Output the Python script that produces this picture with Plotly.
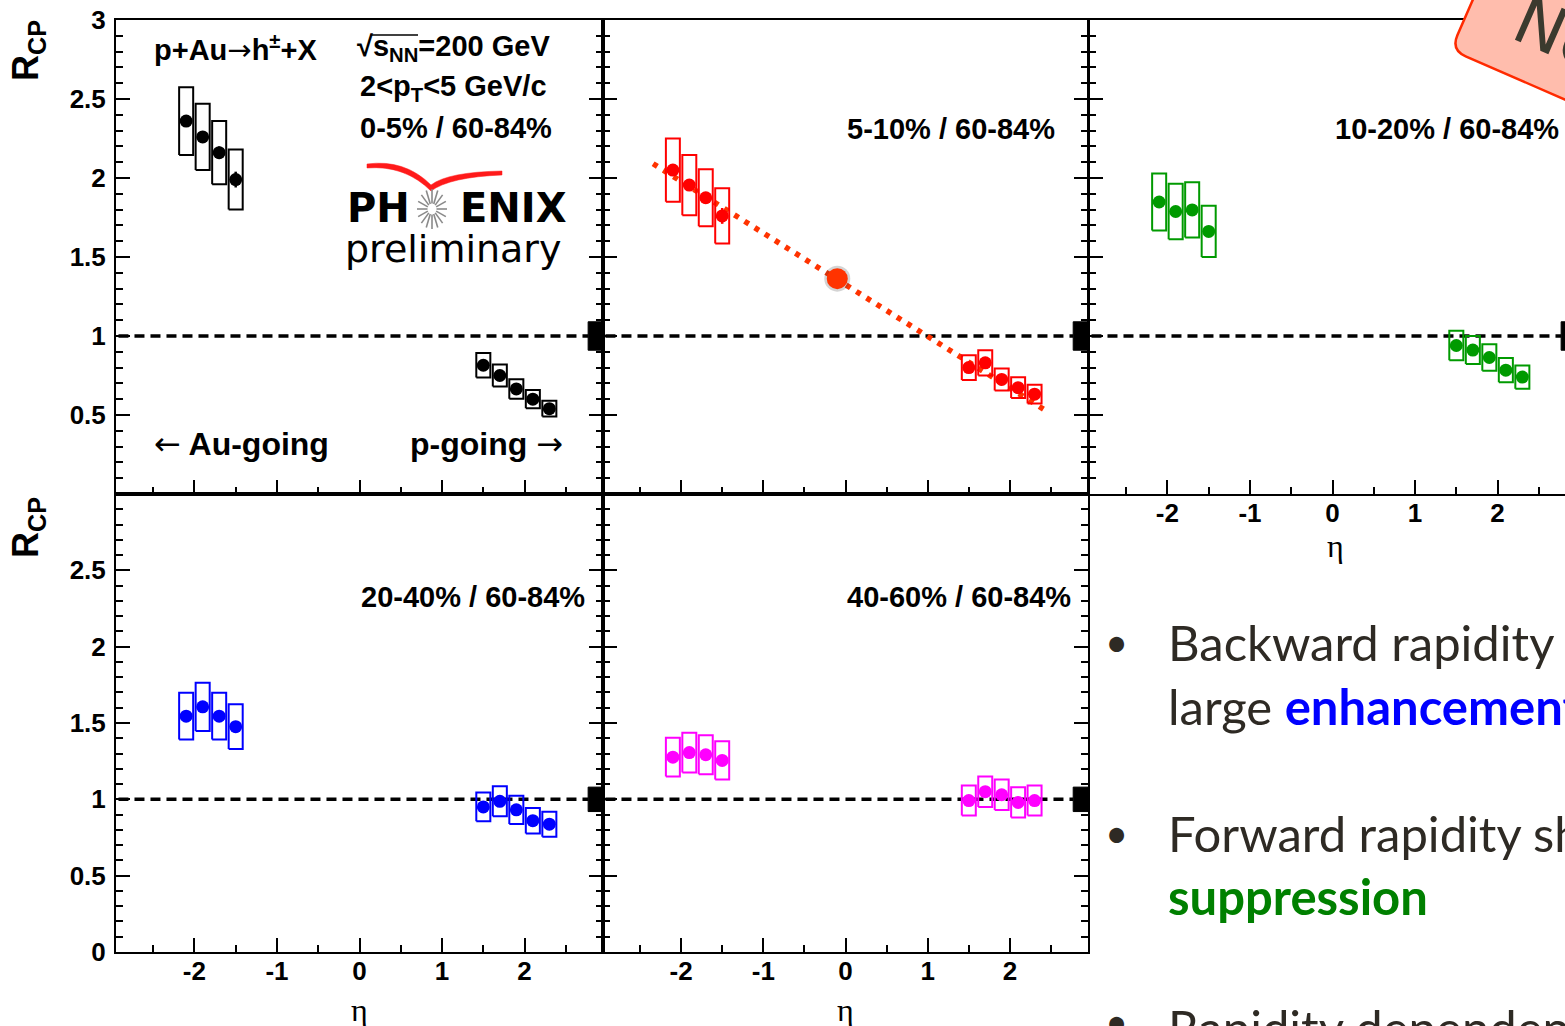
import math
import plotly.graph_objects as go

W, H = 1565, 1026

# ---------------- data ----------------
eta_backward = [-2.1, -1.9, -1.7, -1.5]
eta_forward = [1.5, 1.7, 1.9, 2.1, 2.3]

panel_labels = ["0-5% / 60-84%", "5-10% / 60-84%", "10-20% / 60-84%",
                "20-40% / 60-84%", "40-60% / 60-84%"]
panel_colors = ["#000000", "#ff0000", "#009a00", "#0000ff", "#ff00ff"]

rcp_0_5_back = [2.36, 2.26, 2.16, 1.99]
sys_0_5_back = [0.215, 0.21, 0.20, 0.19]
stat_0_5_back = [0.03, 0.03, 0.04, 0.05]
rcp_0_5_fwd = [0.815, 0.75, 0.665, 0.60, 0.54]
sys_0_5_fwd = [0.077, 0.07, 0.062, 0.058, 0.05]
stat_0_5_fwd = [0.02, 0.02, 0.02, 0.02, 0.02]

rcp_5_10_back = [2.05, 1.955, 1.875, 1.76]
sys_5_10_back = [0.20, 0.19, 0.18, 0.175]
stat_5_10_back = [0.03, 0.03, 0.035, 0.05]
rcp_5_10_fwd = [0.80, 0.83, 0.725, 0.673, 0.632]
sys_5_10_fwd = [0.078, 0.08, 0.07, 0.066, 0.06]
stat_5_10_fwd = [0.02, 0.02, 0.02, 0.02, 0.02]

rcp_10_20_back = [1.848, 1.788, 1.798, 1.662]
sys_10_20_back = [0.18, 0.175, 0.175, 0.162]
stat_10_20_back = [0.025, 0.025, 0.03, 0.035]
rcp_10_20_fwd = [0.94, 0.911, 0.864, 0.784, 0.74]
sys_10_20_fwd = [0.094, 0.089, 0.084, 0.076, 0.074]
stat_10_20_fwd = [0.015, 0.015, 0.015, 0.015, 0.015]

rcp_20_40_back = [1.545, 1.606, 1.545, 1.476]
sys_20_40_back = [0.153, 0.158, 0.153, 0.147]
stat_20_40_back = [0.025, 0.025, 0.025, 0.03]
rcp_20_40_fwd = [0.95, 0.987, 0.931, 0.86, 0.837]
sys_20_40_fwd = [0.094, 0.098, 0.092, 0.084, 0.082]
stat_20_40_fwd = [0.015, 0.015, 0.015, 0.015, 0.015]

rcp_40_60_back = [1.276, 1.306, 1.292, 1.255]
sys_40_60_back = [0.127, 0.13, 0.128, 0.125]
stat_40_60_back = [0.025, 0.025, 0.025, 0.03]
rcp_40_60_fwd = [0.992, 1.05, 1.03, 0.98, 0.992]
sys_40_60_fwd = [0.098, 0.10, 0.10, 0.099, 0.098]
stat_40_60_fwd = [0.015, 0.015, 0.015, 0.015, 0.015]

norm_uncertainty = [0.09, 0.09, 0.09, 0.08, 0.08]

# slide overlay on the 5-10% panel: dotted trend line and highlighted mid-rapidity point
trend_eta = [-2.34, 2.43]
trend_rcp = [2.09, 0.53]
highlight_eta = [-0.10]
highlight_rcp = [1.363]

x_ticks = [-2, -1, 0, 1, 2]
x_ticktext = ["-2", "-1", "0", "1", "2"]
y_ticks_top = [0.5, 1, 1.5, 2, 2.5, 3]
y_ticktext_top = ["0.5", "1", "1.5", "2", "2.5", "3"]
y_ticks_bottom = [0, 0.5, 1, 1.5, 2, 2.5]
y_ticktext_bottom = ["0", "0.5", "1", "1.5", "2", "2.5"]

series = [
    (rcp_0_5_back, sys_0_5_back, stat_0_5_back, rcp_0_5_fwd, sys_0_5_fwd, stat_0_5_fwd),
    (rcp_5_10_back, sys_5_10_back, stat_5_10_back, rcp_5_10_fwd, sys_5_10_fwd, stat_5_10_fwd),
    (rcp_10_20_back, sys_10_20_back, stat_10_20_back, rcp_10_20_fwd, sys_10_20_fwd, stat_10_20_fwd),
    (rcp_20_40_back, sys_20_40_back, stat_20_40_back, rcp_20_40_fwd, sys_20_40_fwd, stat_20_40_fwd),
    (rcp_40_60_back, sys_40_60_back, stat_40_60_back, rcp_40_60_fwd, sys_40_60_fwd, stat_40_60_fwd),
]

# ---------------- layout geometry (pixels) ----------------
geom = [(116, 603, 20, 494), (603, 1088, 20, 494), (1089, 1565, 20, 494),
        (116, 603, 494, 952), (603, 1088, 494, 952)]
XMIN, XMAX = -2.95, 2.95
PX_PER_UNIT = 487 / (XMAX - XMIN)
BOX_HW = 0.085
NORM_X0 = 2.77


def fx(p):
    return p / W


def fy(p):
    return 1 - p / H


def box_xy(etas, vals, errs, hw=BOX_HW):
    xs, ys = [], []
    for e, v, s in zip(etas, vals, errs):
        xs += [e - hw, e + hw, e + hw, e - hw, e - hw, None]
        ys += [v - s, v - s, v + s, v + s, v - s, None]
    return xs, ys


fig = go.Figure()
tickfont = dict(family="Liberation Sans", size=26, color="black", weight="bold")
layout = {}

for i, (x0, x1, y0, y1) in enumerate(geom):
    n = "" if i == 0 else str(i + 1)
    xr = [XMIN, XMIN + (x1 - x0) / PX_PER_UNIT] if i == 2 else [XMIN, XMAX]
    layout["xaxis" + n] = dict(
        domain=[fx(x0), fx(x1)], anchor="y" + n, range=xr, automargin=False,
        showline=True, linewidth=2, linecolor="black", mirror=True,
        ticks="inside", ticklen=14, tickwidth=2, tickcolor="black",
        tickmode="array", tickvals=x_ticks, ticktext=x_ticktext,
        minor=dict(tickmode="linear", tick0=0.5, dtick=0.5, ticks="inside",
                   ticklen=7, tickwidth=2, tickcolor="black"),
        showgrid=False, zeroline=False, fixedrange=True,
        showticklabels=i in (2, 3, 4), tickfont=tickfont, ticklabelstandoff=-5,
    )
    layout["yaxis" + n] = dict(
        domain=[fy(y1), fy(y0)], anchor="x" + n, range=[0, 3], automargin=False,
        showline=True, linewidth=2, linecolor="black",
        mirror=False if i == 2 else "allticks",
        ticks="inside", ticklen=14, tickwidth=2, tickcolor="black",
        tickmode="array",
        tickvals=y_ticks_top if i < 3 else y_ticks_bottom,
        ticktext=y_ticktext_top if i < 3 else y_ticktext_bottom,
        minor=dict(tickmode="linear", tick0=0, dtick=0.1, ticks="inside",
                   ticklen=7, tickwidth=2, tickcolor="black"),
        showgrid=False, zeroline=False, fixedrange=True,
        showticklabels=i in (0, 3), tickfont=tickfont, ticklabelstandoff=3,
    )

    xa, ya = "x" + n, "y" + n
    col = panel_colors[i]
    rb, sb, tb, rf, sf, tf = series[i]

    # unity reference line
    fig.add_trace(go.Scatter(x=[XMIN + 0.03, NORM_X0], y=[1, 1], mode="lines",
                             line=dict(color="black", width=3.5, dash="10px,6px"),
                             xaxis=xa, yaxis=ya, showlegend=False, hoverinfo="skip"))
    # normalisation uncertainty box
    nu = norm_uncertainty[i]
    fig.add_trace(go.Scatter(x=[NORM_X0, XMAX, XMAX, NORM_X0, NORM_X0],
                             y=[1 - nu, 1 - nu, 1 + nu, 1 + nu, 1 - nu],
                             mode="lines", fill="toself", fillcolor="black",
                             line=dict(color="black", width=1),
                             xaxis=xa, yaxis=ya, showlegend=False, hoverinfo="skip"))
    if i == 1:
        fig.add_trace(go.Scatter(x=trend_eta, y=trend_rcp, mode="lines",
                                 line=dict(color="#ff3300", width=5.5, dash="5px,7px"),
                                 xaxis=xa, yaxis=ya, showlegend=False, hoverinfo="skip"))
    # systematic boxes
    for etas, vals, sy in ((eta_backward, rb, sb), (eta_forward, rf, sf)):
        bx, by = box_xy(etas, vals, sy)
        fig.add_trace(go.Scatter(x=bx, y=by, mode="lines",
                                 line=dict(color=col, width=2),
                                 xaxis=xa, yaxis=ya, showlegend=False, hoverinfo="skip"))
    # points with statistical errors
    for etas, vals, st in ((eta_backward, rb, tb), (eta_forward, rf, tf)):
        fig.add_trace(go.Scatter(x=etas, y=vals, mode="markers",
                                 marker=dict(color=col, size=13, symbol="circle"),
                                 error_y=dict(type="data", array=st, color=col,
                                              thickness=2.5, width=0),
                                 xaxis=xa, yaxis=ya, showlegend=False))
    if i == 1:
        fig.add_trace(go.Scatter(x=highlight_eta, y=highlight_rcp, mode="markers",
                                 marker=dict(color="rgba(60,60,60,0.22)", size=26),
                                 xaxis=xa, yaxis=ya, showlegend=False, hoverinfo="skip"))
        fig.add_trace(go.Scatter(x=highlight_eta, y=highlight_rcp, mode="markers",
                                 marker=dict(color="#ff3300", size=21),
                                 xaxis=xa, yaxis=ya, showlegend=False))

annotations = []


def text(x, y, t, size, family="Liberation Sans", bold=True, xanchor="left",
         color="black", angle=0, yanchor="middle"):
    annotations.append(dict(
        x=fx(x), y=fy(y), xref="paper", yref="paper", text=t, showarrow=False,
        xanchor=xanchor, yanchor=yanchor, textangle=angle,
        font=dict(family=family, size=size, color=color,
                  weight="bold" if bold else "normal")))


ARROW_R = "<span style='font-family:DejaVu Sans;font-weight:normal'>→</span>"
ARROW_L = "<span style='font-family:DejaVu Sans;font-weight:normal'>←</span>"

# panel texts
text(152, 48, "p+Au" + ARROW_R + "h<sup>±</sup>+X", 29)
text(355, 48, "√s<sub>NN</sub>=200 GeV", 29)
text(358, 88, "2&lt;p<sub>T</sub>&lt;5 GeV/c", 29)
text(358, 128, panel_labels[0], 29)
text(845, 129, panel_labels[1], 29)
text(1333, 129, panel_labels[2], 29)
text(359, 597, panel_labels[3], 29)
text(845, 597, panel_labels[4], 29)
text(152, 444, ARROW_L + " Au-going", 32)
text(408, 444, "p-going " + ARROW_R, 32)

# PHENIX preliminary logo
text(345, 208, "PH", 40, family="DejaVu Sans")
text(458, 208, "ENIX", 40, family="DejaVu Sans")
text(343, 249, "preliminary", 38, family="DejaVu Sans", bold=False)

# axis titles
text(28, 51, "R<sub>CP</sub>", 36, xanchor="center", angle=-90)
text(28, 528, "R<sub>CP</sub>", 36, xanchor="center", angle=-90)
text(1335, 546, "η", 32, family="Liberation Serif", bold=False, xanchor="center")
text(359, 1010, "η", 32, family="Liberation Serif", bold=False, xanchor="center")
text(845, 1010, "η", 32, family="Liberation Serif", bold=False, xanchor="center")

# slide bullet text
TXT = "#2e2a24"
BUL = "Lato"
BS = 49
text(1116, 642, "•", 40, family=BUL, bold=False, xanchor="center", color=TXT)
text(1166, 642, "Backward rapidity shows a", BS, family=BUL, bold=False, color=TXT)
text(1166, 706, "large <b><span style='color:#0000ff'>enhancement</span></b>", BS,
     family=BUL, bold=False, color=TXT)
text(1116, 833, "•", 40, family=BUL, bold=False, xanchor="center", color=TXT)
text(1166, 833, "Forward rapidity shows", BS, family=BUL, bold=False, color=TXT)
text(1166, 896, "<b><span style='color:#008000'>suppression</span></b>", BS,
     family=BUL, bold=False, color=TXT)
text(1116, 1022, "•", 40, family=BUL, bold=False, xanchor="center", color=TXT)
text(1166, 1027, "Rapidity dependence", BS, family=BUL, bold=False, color=TXT)

# "New" badge text
text(1596, 50, "New!", 66, family="DejaVu Sans", bold=False, xanchor="center",
     color="#3b3a2e", angle=23.5)

shapes = []


def P(x, y):
    return f"{fx(x):.5f},{fy(y):.5f}"


# badge (rotated rounded rectangle)
ux, uy = math.cos(math.radians(23.5)), math.sin(math.radians(23.5))
vx, vy = uy, -ux
cx, cy = 1451, 50
r = 16
a = (cx + vx * r, cy + vy * r)
b = (cx + ux * r, cy + uy * r)
far_u = (cx + ux * 260, cy + uy * 260)
far_v = (cx + vx * 160, cy + vy * 160)
far_uv = (far_u[0] + vx * 160, far_u[1] + vy * 160)
badge = (f"M {P(*far_v)} L {P(*a)} Q {P(cx, cy)} {P(*b)} L {P(*far_u)} "
         f"L {P(*far_uv)} Z")
shapes.append(dict(type="path", path=badge, xref="paper", yref="paper",
                   fillcolor="#ffbdad", line=dict(color="#ff2a00", width=2.5),
                   layer="above"))

# sqrt overline
shapes.append(dict(type="line", xref="paper", yref="paper",
                   x0=fx(371), y0=fy(35), x1=fx(418), y1=fy(35),
                   line=dict(color="black", width=1.5)))

# PHENIX red swoosh
swoosh = (f"M {P(367, 164)} Q {P(405, 159)} {P(431, 185)} Q {P(448, 172)} {P(502, 171)} "
          f"L {P(502, 175)} Q {P(450, 177)} {P(431, 191)} Q {P(405, 165)} {P(367, 168)} Z")
shapes.append(dict(type="path", path=swoosh, xref="paper", yref="paper",
                   fillcolor="#ff1a1a", line=dict(color="#ff1a1a", width=0.5)))

# PHENIX starburst
scx, scy = 432, 209
for k in range(16):
    ang = 2 * math.pi * k / 16
    x_in, y_in = scx + 4.5 * math.cos(ang), scy + 5.5 * math.sin(ang)
    x_out, y_out = scx + 15 * math.cos(ang), scy + 20 * math.sin(ang)
    shapes.append(dict(type="line", xref="paper", yref="paper",
                       x0=fx(x_in), y0=fy(y_in), x1=fx(x_out), y1=fy(y_out),
                       line=dict(color="#8a8a8a", width=1.6)))

fig.update_layout(
    width=W, height=H, margin=dict(l=0, r=0, t=0, b=0, autoexpand=False),
    paper_bgcolor="white", plot_bgcolor="white",
    showlegend=False, annotations=annotations, shapes=shapes,
    **layout,
)

fig.write_html("out.html")
